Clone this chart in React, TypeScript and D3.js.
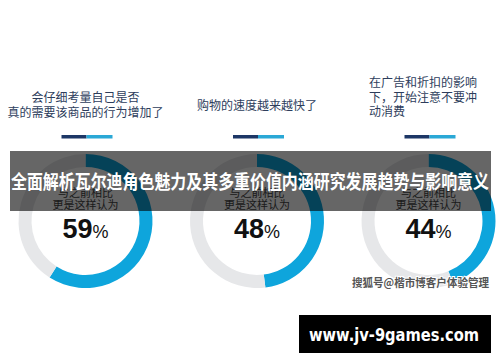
import * as d3 from "d3";

const percents = [59, 48, 44];
const captions = [
  ["会仔细考量自己是否", "真的需要该商品的行为增加了"],
  ["购物的速度越来越快了"],
  ["在广告和折扣的影响", "下，开始注意不要冲", "动消费"],
];
const innerLines = ["与之前相比", "更是这样认为"];
const title = "全面解析瓦尔迪角色魅力及其多重价值内涵研究发展趋势与影响意义";
const watermark = "搜狐号@楷市博客户体验管理";
const siteLabel = "www.jv-9games.com";

const WIDTH = 500;
const HEIGHT = 362;
const CJK = "'Noto Sans CJK SC', 'Noto Sans', sans-serif";
const NUM = "'Liberation Sans', Arial, sans-serif";

// panel centres across the page
const xScale = d3.scaleLinear().domain([0, 2]).range([85.5, 428.5]);
const CY = 221;
const OUTER = 67;
const INNER = 54;

export default function App() {
  const pie = d3
    .pie<number>()
    .sort(null)
    .value((d) => d);
  const arc = d3
    .arc<d3.PieArcDatum<number>>()
    .innerRadius(INNER)
    .outerRadius(OUTER);

  return (
    <svg
      width={WIDTH}
      height={HEIGHT}
      style={{ position: "absolute", left: 0, top: 0, background: "#fff" }}
    >
      <rect width={WIDTH} height={HEIGHT} fill="#fff" />
      {percents.map((p, i) => {
        const cx = xScale(i);
        const lines = captions[i];
        const arcs = pie([p, 100 - p]);
        const leftAligned = i === 2;
        const lineH = 14.5;
        const midY = 105 + (i === 2 ? -8 : 0);
        const firstY = midY - ((lines.length - 1) * lineH) / 2 + 4.5;
        return (
          <g key={i}>
            {lines.map((l, j) => (
              <text
                key={j}
                x={leftAligned ? 369 : cx}
                y={firstY + j * lineH}
                textAnchor={leftAligned ? "start" : "middle"}
                fontFamily={CJK}
                fontSize={12}
                fill="#2d3d5c"
              >
                {l}
              </text>
            ))}
            <rect x={cx - 24} y={135} width={25} height={3.5} fill="#1d3766" />
            <rect x={cx + 1} y={135} width={26} height={3.5} fill="#2aa8d6" />
            <g transform={`translate(${cx},${CY})`}>
              {arcs.map((a, k) => (
                <path
                  key={k}
                  d={arc(a) || undefined}
                  fill={k === 0 ? "#0ea5dc" : "#e6e7e9"}
                />
              ))}
              {innerLines.map((l, j) => (
                <text
                  key={j}
                  y={-24 + j * 11.5}
                  textAnchor="middle"
                  fontFamily={CJK}
                  fontSize={11}
                  fill="#444"
                >
                  {l}
                </text>
              ))}
              <text y={17} textAnchor="middle" fontFamily={NUM} fill="#111">
                <tspan fontSize={27} fontWeight="bold">
                  {p}
                </tspan>
                <tspan fontSize={18}>%</tspan>
              </text>
            </g>
          </g>
        );
      })}
      <rect x={10} y={151} width={481} height={60} fill="#000" fillOpacity={0.6} />
      <text
        x={250}
        y={188.5}
        textAnchor="middle"
        fontFamily={CJK}
        fontSize={19}
        fontWeight="bold"
        fill="#fff"
        textLength={478}
        lengthAdjust="spacingAndGlyphs"
      >
        {title}
      </text>
      <text
        x={489}
        y={287}
        textAnchor="end"
        fontFamily={CJK}
        fontSize={11}
        fontWeight="bold"
        fill="#555"
        stroke="#fff"
        strokeWidth={2}
        paintOrder="stroke"
        textLength={137}
        lengthAdjust="spacingAndGlyphs"
      >
        {watermark}
      </text>
      <rect x={299} y={315} width={192} height={38} fill="#000" />
      <text
        x={394}
        y={341}
        textAnchor="middle"
        fontFamily="'DejaVu Sans', Verdana, sans-serif"
        fontSize={18}
        fontWeight="bold"
        fill="#fff"
        textLength={170}
        lengthAdjust="spacingAndGlyphs"
      >
        {siteLabel}
      </text>
    </svg>
  );
}
